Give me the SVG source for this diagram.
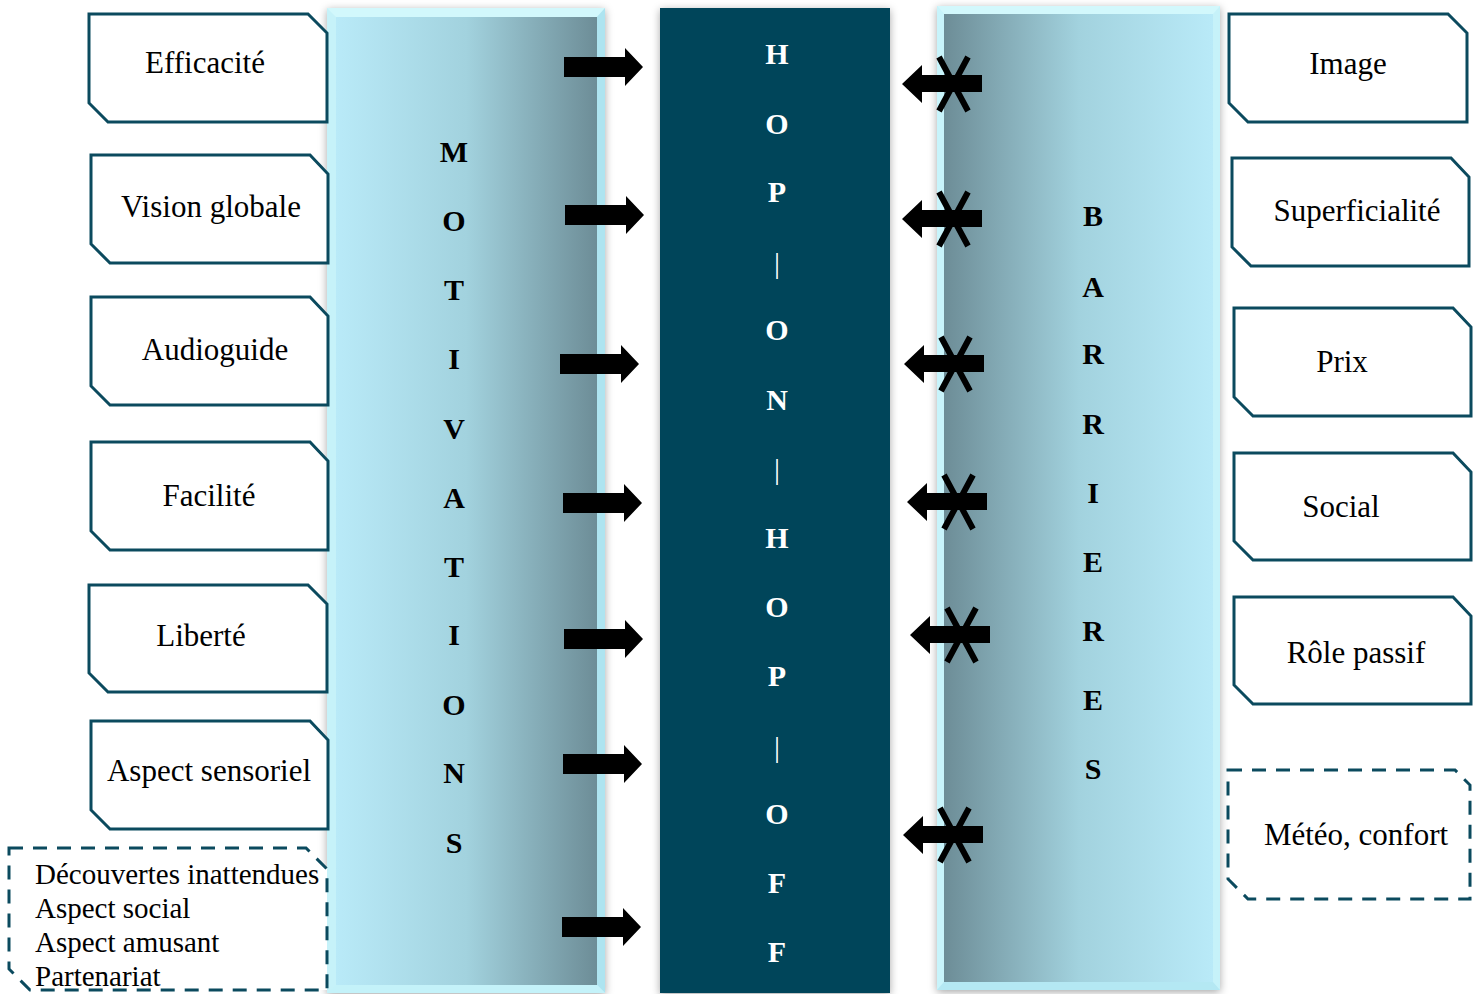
<svg xmlns="http://www.w3.org/2000/svg" width="1475" height="994" viewBox="0 0 1475 994">
<defs>
<linearGradient id="gL" x1="0" y1="0" x2="1" y2="0">
<stop offset="0" stop-color="#b9eaf8"/><stop offset="0.5" stop-color="#a2d2de"/><stop offset="1" stop-color="#6d8d97"/>
</linearGradient>
<linearGradient id="gR" x1="0" y1="0" x2="1" y2="0">
<stop offset="0" stop-color="#6d8d97"/><stop offset="0.5" stop-color="#a2d2de"/><stop offset="1" stop-color="#b9eaf8"/>
</linearGradient>
<filter id="sh" x="-10%" y="-5%" width="120%" height="110%">
<feDropShadow dx="0" dy="2" stdDeviation="4" flood-color="#000" flood-opacity="0.35"/>
</filter>
<path id="ra" d="M0,-10 H61 V-19 L79,0 L61,19 V10 H0 Z"/>
<g id="la">
<path d="M0,0 L20,-19 V-9 H80 V8 H20 V19 Z"/>
<path d="M37,-27 L66,27 M66,-27 L37,27" stroke="#000" stroke-width="6" fill="none"/>
</g>
</defs>
<style>
.box{fill:#fff;stroke:#0b4a5e;stroke-width:3}
.dash{fill:#fff;stroke:#0b4a5e;stroke-width:3;stroke-dasharray:14 10}
.t{font-family:"Liberation Serif","Times New Roman",serif;font-size:31px;fill:#000;text-anchor:middle}
.td{font-family:"Liberation Serif","Times New Roman",serif;font-size:29px;fill:#000}
.v{font-family:"Liberation Serif","Times New Roman",serif;font-size:30px;font-weight:bold;text-anchor:middle;fill:#000}
.w{font-family:"Liberation Serif","Times New Roman",serif;font-size:30px;font-weight:bold;text-anchor:middle;fill:#fff}
.wb{font-family:"Liberation Serif","Times New Roman",serif;font-size:30px;text-anchor:middle;fill:#fff}
</style>
<rect width="1475" height="994" fill="#fff"/>

<g id="panel-motivations">
<g filter="url(#sh)">
<rect x="327" y="8" width="278" height="985" fill="#c6f2f9"/>
</g>
<polygon points="327,8 605,8 597,17 336,17" fill="#d2f8fc"/>
<polygon points="605,8 605,993 597,985 597,17" fill="#aee4f0"/>
<polygon points="327,993 605,993 597,985 336,985" fill="#c4f2f9"/>
<rect x="336" y="17" width="261" height="968" fill="url(#gL)"/>
<text class="v" x="454" y="162">M</text>
<text class="v" x="454" y="231">O</text>
<text class="v" x="454" y="300">T</text>
<text class="v" x="454" y="369">I</text>
<text class="v" x="454" y="439">V</text>
<text class="v" x="454" y="508">A</text>
<text class="v" x="454" y="577">T</text>
<text class="v" x="454" y="645">I</text>
<text class="v" x="454" y="715">O</text>
<text class="v" x="454" y="783">N</text>
<text class="v" x="454" y="853">S</text>
</g>

<g id="panel-barrieres">
<g filter="url(#sh)">
<rect x="937" y="6" width="283" height="984" fill="#c6f2f9"/>
</g>
<polygon points="937,6 1220,6 1213,14 944,14" fill="#d2f8fc"/>
<polygon points="937,6 944,14 944,982 937,990" fill="#c8f4fb"/>
<polygon points="937,990 1220,990 1213,982 944,982" fill="#b4e8f3"/>
<rect x="944" y="14" width="269" height="968" fill="url(#gR)"/>
<text class="v" x="1093" y="226">B</text>
<text class="v" x="1093" y="297">A</text>
<text class="v" x="1093" y="364">R</text>
<text class="v" x="1093" y="434">R</text>
<text class="v" x="1093" y="503">I</text>
<text class="v" x="1093" y="572">E</text>
<text class="v" x="1093" y="641">R</text>
<text class="v" x="1093" y="710">E</text>
<text class="v" x="1093" y="779">S</text>
</g>

<g id="hop-on-hop-off">
<rect x="660" y="8" width="230" height="985" fill="#04455a" filter="url(#sh)"/>
<text class="w" x="777" y="64">H</text>
<text class="w" x="777" y="134">O</text>
<text class="w" x="777" y="202">P</text>
<text class="wb" x="777" y="273">|</text>
<text class="w" x="777" y="340">O</text>
<text class="w" x="777" y="410">N</text>
<text class="wb" x="777" y="479">|</text>
<text class="w" x="777" y="548">H</text>
<text class="w" x="777" y="617">O</text>
<text class="w" x="777" y="686">P</text>
<text class="wb" x="777" y="757">|</text>
<text class="w" x="777" y="824">O</text>
<text class="w" x="777" y="893">F</text>
<text class="w" x="777" y="962">F</text>
</g>

<g id="n-efficacite"><path class="box" d="M89,14 H308 L327,33 V122 H108 L89,103 Z"/><text class="t" x="205" y="73">Efficacité</text></g>
<g id="n-vision"><path class="box" d="M91,155 H310 L328,174 V263 H110 L91,244 Z"/><text class="t" x="211" y="217">Vision globale</text></g>
<g id="n-audioguide"><path class="box" d="M91,297 H310 L328,316 V405 H110 L91,386 Z"/><text class="t" x="215" y="360">Audioguide</text></g>
<g id="n-facilite"><path class="box" d="M91,442 H310 L328,461 V550 H110 L91,531 Z"/><text class="t" x="209" y="506">Facilité</text></g>
<g id="n-liberte"><path class="box" d="M89,585 H308 L327,604 V692 H108 L89,673 Z"/><text class="t" x="201" y="646">Liberté</text></g>
<g id="n-sensoriel"><path class="box" d="M91,721 H310 L328,740 V829 H110 L91,810 Z"/><text class="t" x="209" y="781">Aspect sensoriel</text></g>
<g id="n-autres"><path class="dash" d="M9,848 H306 L327,869 V990 H30 L9,969 Z"/>
<text class="td" x="35" y="884">Découvertes inattendues</text>
<text class="td" x="35" y="918">Aspect social</text>
<text class="td" x="35" y="952">Aspect amusant</text>
<text class="td" x="35" y="986">Partenariat</text></g>

<g id="n-image"><path class="box" d="M1229,14 H1448 L1467,33 V122 H1248 L1229,103 Z"/><text class="t" x="1348" y="74">Image</text></g>
<g id="n-superficialite"><path class="box" d="M1232,158 H1451 L1469,177 V266 H1251 L1232,247 Z"/><text class="t" x="1357" y="221">Superficialité</text></g>
<g id="n-prix"><path class="box" d="M1234,308 H1453 L1471,327 V416 H1253 L1234,397 Z"/><text class="t" x="1342" y="372">Prix</text></g>
<g id="n-social"><path class="box" d="M1234,453 H1453 L1471,472 V560 H1253 L1234,541 Z"/><text class="t" x="1341" y="517">Social</text></g>
<g id="n-role"><path class="box" d="M1234,597 H1453 L1471,616 V704 H1253 L1234,685 Z"/><text class="t" x="1356" y="663">Rôle passif</text></g>
<g id="n-meteo"><path class="dash" d="M1228,770 H1455 L1470,785 V899 H1248 L1228,879 Z"/><text class="t" x="1356" y="845">Météo, confort</text></g>

<g id="connectors" fill="#000">
<use href="#ra" x="564" y="67"/>
<use href="#ra" x="565" y="215"/>
<use href="#ra" x="560" y="364"/>
<use href="#ra" x="563" y="503"/>
<use href="#ra" x="564" y="639"/>
<use href="#ra" x="563" y="764"/>
<use href="#ra" x="562" y="927"/>
<use href="#la" x="902" y="84"/>
<use href="#la" x="902" y="219"/>
<use href="#la" x="904" y="364"/>
<use href="#la" x="907" y="502"/>
<use href="#la" x="910" y="635"/>
<use href="#la" x="903" y="835"/>
</g>
</svg>
